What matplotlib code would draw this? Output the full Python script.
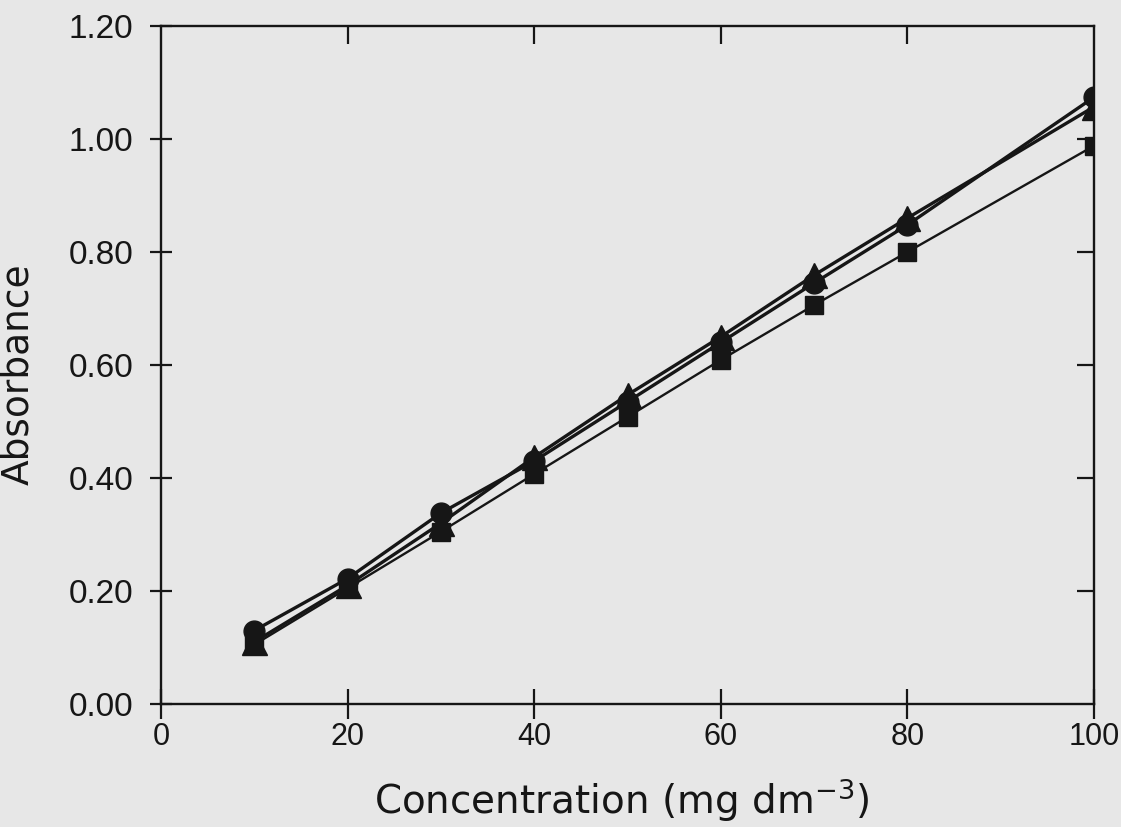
import matplotlib
matplotlib.use("Agg")
import matplotlib.pyplot as plt

conc = [10, 20, 30, 40, 50, 60, 70, 80, 100]
abs_circle = [0.130, 0.222, 0.338, 0.430, 0.535, 0.640, 0.745, 0.848, 1.074]
abs_triangle = [0.110, 0.210, 0.320, 0.437, 0.547, 0.650, 0.759, 0.860, 1.057]
abs_square = [0.105, 0.205, 0.305, 0.407, 0.508, 0.609, 0.706, 0.800, 0.988]

xticks = [0, 20, 40, 60, 80, 100]
yticks = [0.0, 0.2, 0.4, 0.6, 0.8, 1.0, 1.2]

plt.rcParams['font.family'] = ['Liberation Sans', 'DejaVu Sans']
plt.rcParams['mathtext.default'] = 'regular'

bg = '#e7e7e7'
ink = '#161616'
fig = plt.figure(figsize=(11.21, 8.27), dpi=100, facecolor=bg)
ax = fig.add_axes([161 / 1121, 1 - 704 / 827, 933 / 1121, 678 / 827])
ax.set_facecolor(bg)

ax.plot(conc, abs_square, color=ink, lw=1.7, marker='s', ms=13, zorder=3)
ax.plot(conc, abs_circle, color=ink, lw=2.4, marker='o', ms=15, zorder=4)
ax.plot(conc, abs_triangle, color=ink, lw=2.4, marker='^', ms=18, zorder=5)

ax.set_xlim(0, 100)
ax.set_ylim(0, 1.2)
ax.set_xticks(xticks)
ax.set_yticks(yticks)
ax.set_xticklabels([str(v) for v in xticks], fontsize=22)
ax.set_yticklabels(['%.2f' % v for v in yticks], fontsize=24)

for s in ax.spines.values():
    s.set_linewidth(1.7)
    s.set_color(ink)

ax.tick_params(axis='x', direction='inout', length=22, width=1.6, pad=2, colors=ink)
ax.tick_params(axis='y', direction='inout', length=16, width=1.6, pad=12, colors=ink)

top = ax.secondary_xaxis('top')
top.set_xticks([20, 40, 60, 80])
top.set_xticklabels([])
top.tick_params(direction='in', length=13, width=1.6, colors=ink)
top.spines['top'].set_visible(False)

right = ax.secondary_yaxis('right')
right.set_yticks([0.2, 0.4, 0.6, 0.8, 1.0])
right.set_yticklabels([])
right.tick_params(direction='in', length=12, width=1.6, colors=ink)
right.spines['right'].set_visible(False)

ax.set_xlabel('Concentration (mg dm$^{-3}$)', fontsize=28, family='DejaVu Sans', color=ink)
ax.set_ylabel('Absorbance', fontsize=27, family='DejaVu Sans', color=ink)
ax.xaxis.set_label_coords(0.494, -0.106)
ax.yaxis.set_label_coords(-0.134, 0.487)

fig.savefig('out.png', dpi=100, facecolor=bg)
